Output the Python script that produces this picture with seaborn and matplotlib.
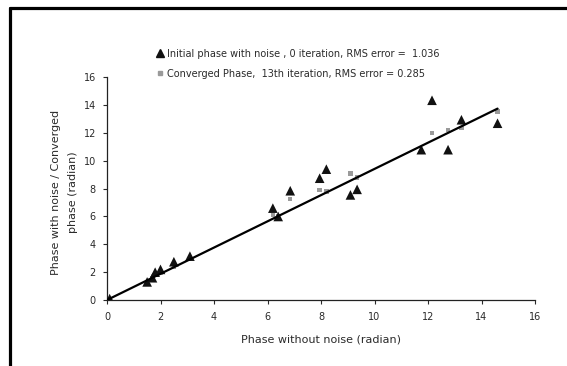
import seaborn as sns
import matplotlib.pyplot as plt
from matplotlib.lines import Line2D
import pandas as pd

# phase data (radian)
x_true = [0.1, 1.5, 1.7, 1.8, 2.0, 2.5, 3.1, 6.2, 6.4, 6.85, 7.95, 8.2, 9.1, 9.35, 11.75, 12.15, 12.75, 13.25, 14.6]
y_noisy = [0.1, 1.3, 1.6, 2.0, 2.2, 2.75, 3.15, 6.6, 6.0, 7.85, 8.75, 9.4, 7.55, 7.95, 10.8, 14.35, 10.8, 12.95, 12.7]
y_conv = [0.08, 1.25, 1.55, 1.8, 1.95, 2.4, 3.0, 6.1, 6.0, 7.25, 7.9, 7.8, 9.1, 8.8, 10.65, 12.0, 12.2, 12.35, 13.55]

# trend line end points
line_x = [0.0, 14.6]
line_y = [0.0, 13.75]

ticks = [0, 2, 4, 6, 8, 10, 12, 14, 16]

df = pd.DataFrame({'x': x_true, 'noisy': y_noisy, 'conv': y_conv})
line_df = pd.DataFrame({'x': line_x, 'y': line_y})

sns.set_style('ticks')
plt.rcParams['font.family'] = ['DejaVu Sans']

txt = '#2a2a2a'

fig = plt.figure(figsize=(5.67, 3.66), dpi=100)
ax = fig.add_axes([107/567, 1 - 300/366, 428/567, 222.7/366])

sns.scatterplot(data=df, x='x', y='conv', marker='s', s=10, color='#9a9a9a',
                edgecolor='none', ax=ax, zorder=2)
sns.scatterplot(data=df, x='x', y='noisy', marker='^', s=48, color='#111111',
                edgecolor='none', ax=ax, zorder=3)
sns.lineplot(data=line_df, x='x', y='y', color='black', linewidth=1.6, ax=ax, zorder=4)

ax.set_xlim(0, 16)
ax.set_ylim(0, 16)
ax.set_xticks(ticks)
ax.set_yticks(ticks)
ax.tick_params(direction='out', length=3, width=0.8, labelsize=7, colors=txt)
ax.tick_params(axis='x', pad=6)
ax.tick_params(axis='y', pad=5)
for s in ['top', 'right']:
    ax.spines[s].set_visible(False)
for s in ['left', 'bottom']:
    ax.spines[s].set_linewidth(0.9)
    ax.spines[s].set_color('#222222')

ax.set_xlabel('Phase without noise (radian)', fontsize=8, color=txt, labelpad=9)
ax.set_ylabel('Phase with noise / Converged\nphase (radian)', fontsize=8, color=txt,
              linespacing=1.8)
ax.yaxis.set_label_coords(-0.068, 0.485)

handles = [
    Line2D([], [], marker='^', linestyle='none', color='#111111', markersize=5.5),
    Line2D([], [], marker='s', linestyle='none', color='#9a9a9a', markersize=2.8),
]
labels = ['Initial phase with noise , 0 iteration, RMS error =  1.036',
          'Converged Phase,  13th iteration, RMS error = 0.285']
leg = fig.legend(handles, labels, loc='upper left', bbox_to_anchor=(152/567, 1 - 44/366),
                 frameon=False, fontsize=7, handlelength=0.7, handletextpad=0.3,
                 labelspacing=1.0, borderpad=0)
for t in leg.get_texts():
    t.set_color(txt)

# frame lines on the left and top edges of the page
fig.add_artist(Line2D([9.5/567, 9.5/567], [0, 1 - 7.5/366], color='black', linewidth=2.3))
fig.add_artist(Line2D([9.5/567, 1], [1 - 7.5/366, 1 - 7.5/366], color='black', linewidth=2.3))

plt.savefig('out.png', dpi=100)
